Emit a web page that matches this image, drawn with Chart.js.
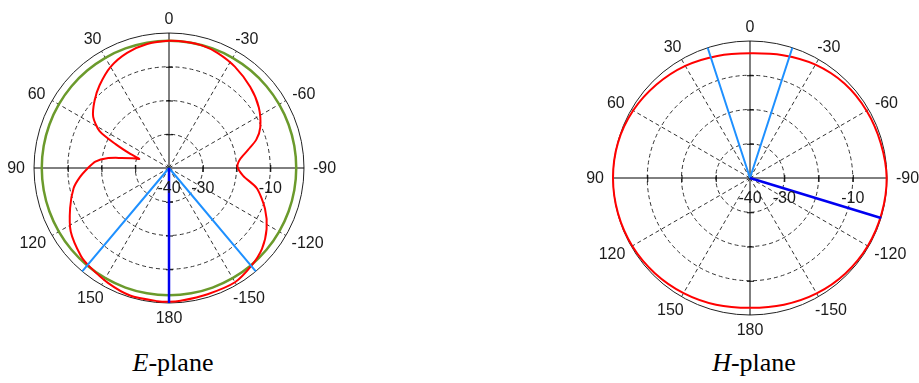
<!DOCTYPE html>
<html>
<head>
<meta charset="utf-8">
<script src="https://cdn.jsdelivr.net/npm/chart.js@4.4.0/dist/chart.umd.min.js"></script>
<style>
  html, body { margin: 0; padding: 0; background: #fff; }
  body { width: 919px; height: 383px; position: relative; overflow: hidden; }
  canvas { position: absolute; }
  #chartE { left: 0; top: 0; }
  #chartH { left: 580px; top: 0; }
  .caption {
    position: absolute; top: 350px;
    font-family: "Liberation Serif", "Times New Roman", serif;
    font-size: 26px; line-height: 26px; color: #000;
    white-space: nowrap; transform: translateX(-50%);
  }
</style>
</head>
<body>
<canvas id="chartE" width="340" height="340"></canvas>
<canvas id="chartH" width="339" height="340"></canvas>
<div class="caption" style="left:173px"><i>E</i>-plane</div>
<div class="caption" style="left:754px"><i>H</i>-plane</div>
<script>
// Angle labels around the rim (degrees) and level rings (dB)
const angleTicks = [0, -30, -60, -90, -120, -150, 180, 150, 120, 90, 60, 30];
const levelTicks = [-40, -30, -20, -10, 0];
const levelLabels = [-40, -30, -10];

// E-plane co-polar pattern (dB)
const eAngles = [0, 10, 20, 30, 40, 48, 56, 62, 66, 70, 73, 75, 78, 81, 85, 90, 96, 102, 112, 123, 135, 141, 152, 163, 175, 180,
                 -175, -163, -150, -140, -131, -122, -113, -103, -96, -89, -83, -77, -72, -66, -56, -45, -33, -23, -15, -8];
const eCoPol  = [-2.3, -2.7, -3.7, -5.4, -8.0, -10.3, -12.9, -16.7, -22.8, -27.8, -30.8, -28.8, -25.6, -21.4, -18.1, -16.0, -13.4, -11.1, -8.4, -5.3, -3.1, -2.5, -1.45, -0.5, -0.4, -0.35,
                 -0.5, -0.9, -0.9, -2.1, -3.5, -5.9, -9.1, -13.3, -17.9, -19.7, -18.8, -15.9, -12.8, -10.4, -7.9, -6.0, -4.2, -3.0, -2.4, -2.3];

// E-plane reference pattern (dB)
const eRefAngles = [0, 10, 20, 30, 40, 50, 60, 70, 80, 90, 100, 110, 120, 130, 140, 150, 160, 170, 180,
                    -170, -160, -150, -140, -130, -120, -110, -100, -90, -80, -70, -60, -50, -40, -30, -20, -10];
const eRef = [-2.3, -2.3, -2.3, -2.3, -2.3, -2.3, -2.3, -2.3, -2.3, -2.3, -2.3, -2.3, -2.3, -2.3, -2.3, -2.3, -2.3, -2.3, -2.3,
              -2.3, -2.3, -2.3, -2.3, -2.3, -2.3, -2.3, -2.3, -2.3, -2.3, -2.3, -2.3, -2.3, -2.3, -2.3, -2.3, -2.3];

// E-plane marker directions (degrees)
const eBeamEdges = [140, -140];
const eBeamAxis = [180];

// H-plane co-polar pattern (dB)
const hAngles = [0, 15, 30, 45, 60, 75, 90, 105, 120, 135, 150, 165, 180, -165, -150, -135, -120, -105, -90, -75, -60, -45, -30, -15];
const hCoPol  = [-3.6, -3.1, -2.2, -1.4, -0.6, -0.1, 0, -0.1, -0.3, -0.7, -1.2, -1.7, -2.1, -1.7, -1.1, -0.6, -0.3, -0.2, -0.1, -0.5, -0.7, -1.0, -1.8, -2.9];

// H-plane marker directions (degrees)
const hBeamEdges = [18, -18];
const hBeamAxis = [-107];

// One radar spoke per degree, running clockwise from the top
const N = 360;
const rMin = levelTicks[0];
const rMax = levelTicks[levelTicks.length - 1];
const angleToIndex = a => ((Math.round(-a) % N) + N) % N;
const spokeLabels = Array.from({ length: N }, (_, i) => { let a = -i; if (a <= -180) a += 360; return String(a); });

function spokeSeries(angles, values) {
  const out = new Array(N).fill(null);
  angles.forEach((a, k) => { out[angleToIndex(a)] = values[k]; });
  return out;
}
// radial ray from the centre (rMin) out to the rim (rMax) along each given direction
function raySeries(angles) {
  const out = new Array(N).fill(null);
  angles.forEach(a => {
    const i = angleToIndex(a);
    out[i] = rMax;
    out[(i + 1) % N] = rMin;
  });
  return out;
}

const labelFont = '16px "Liberation Sans", Arial, sans-serif';
const labelColor = '#1b1b1b';

const polarDecor = {
  id: 'polarDecor',
  beforeDatasetsDraw(chart) {
    const s = chart.scales.r, ctx = chart.ctx;
    const cx = s.xCenter, cy = s.yCenter;
    ctx.save();
    ctx.strokeStyle = '#000';
    ctx.lineWidth = 1;
    ctx.beginPath();
    levelTicks.slice(1, -1).forEach(v => {
      const d = s.getDistanceFromCenterForValue(v);
      ctx.moveTo(cx + d + 0.5, cy - 3); ctx.lineTo(cx + d + 0.5, cy + 4);
      ctx.moveTo(cx - d + 0.5, cy - 3); ctx.lineTo(cx - d + 0.5, cy + 4);
      ctx.moveTo(cx - 3, cy - d + 0.5); ctx.lineTo(cx + 4, cy - d + 0.5);
      ctx.moveTo(cx - 3, cy + d + 0.5); ctx.lineTo(cx + 4, cy + d + 0.5);
    });
    ctx.stroke();
    ctx.restore();
  },
  afterDraw(chart) {
    const s = chart.scales.r, ctx = chart.ctx;
    const cx = s.xCenter, cy = s.yCenter, R = s.drawingArea;
    ctx.save();
    ctx.font = labelFont;
    ctx.fillStyle = labelColor;
    ctx.textAlign = 'center';
    ctx.textBaseline = 'middle';
    const h = 11;
    angleTicks.forEach(a => {
      const txt = String(a);
      const p = s.getPointPosition(angleToIndex(a), R + 9);
      const ux = (p.x - cx) / (R + 9), uy = (p.y - cy) / (R + 9);
      const w = ctx.measureText(txt).width;
      ctx.fillText(txt, p.x + ux * w / 2, p.y + uy * h / 2 + 1);
    });
    levelLabels.forEach(v => {
      const d = s.getDistanceFromCenterForValue(v);
      ctx.fillText(String(v), cx + d, cy + 21);
    });
    ctx.restore();
  }
};

function axisAt(ctx) {
  const a = Number(spokeLabels[ctx.index]);
  return a % 30 === 0 ? a : null;
}

function makeChart(id, pad, datasets) {
  return new Chart(document.getElementById(id), {
    type: 'radar',
    data: { labels: spokeLabels, datasets },
    options: {
      responsive: false,
      animation: false,
      events: [],
      layout: { padding: pad },
      elements: { point: { radius: 0, hitRadius: 0 } },
      plugins: { legend: { display: false }, tooltip: { enabled: false } },
      scales: {
        r: {
          min: rMin,
          max: rMax,
          ticks: { display: false, stepSize: 10, showLabelBackdrop: false },
          pointLabels: { display: false },
          grid: {
            circular: true,
            lineWidth: 1,
            color: c => (c.tick && c.tick.value === rMax) ? '#222' : '#333'
          },
          border: {
            dash: c => (c.tick && c.tick.value === rMax) ? [] : [4, 3]
          },
          angleLines: {
            color: c => { const a = axisAt(c); return (a !== null && a % 90 === 0) ? '#000' : '#333'; },
            lineWidth: c => axisAt(c) === null ? 0 : 1,
            borderDash: c => { const a = axisAt(c); return (a !== null && a % 90 === 0) ? [] : [4, 3]; }
          }
        }
      }
    },
    plugins: [polarDecor]
  });
}

makeChart('chartE', { left: 34, top: 33, right: 36, bottom: 37 }, [
  { data: raySeries(eBeamAxis), borderColor: '#0000f0', borderWidth: 2.5, spanGaps: false, fill: false },
  { data: raySeries(eBeamEdges), borderColor: '#1e90ff', borderWidth: 2, spanGaps: false, fill: false },
  { data: spokeSeries(eAngles, eCoPol), borderColor: '#ff0000', borderWidth: 2, spanGaps: true, tension: 0.25, fill: false },
  { data: spokeSeries(eRefAngles, eRef), borderColor: '#6b9a2c', borderWidth: 2.5, spanGaps: true, tension: 0.3, fill: false }
]);

makeChart('chartH', { left: 33, top: 41, right: 32, bottom: 25 }, [
  { data: raySeries(hBeamAxis), borderColor: '#0000f0', borderWidth: 2.5, spanGaps: false, fill: false },
  { data: raySeries(hBeamEdges), borderColor: '#1e90ff', borderWidth: 2, spanGaps: false, fill: false },
  { data: spokeSeries(hAngles, hCoPol), borderColor: '#ff0000', borderWidth: 2, spanGaps: true, tension: 0.3, fill: false }
]);
</script>
</body>
</html>
